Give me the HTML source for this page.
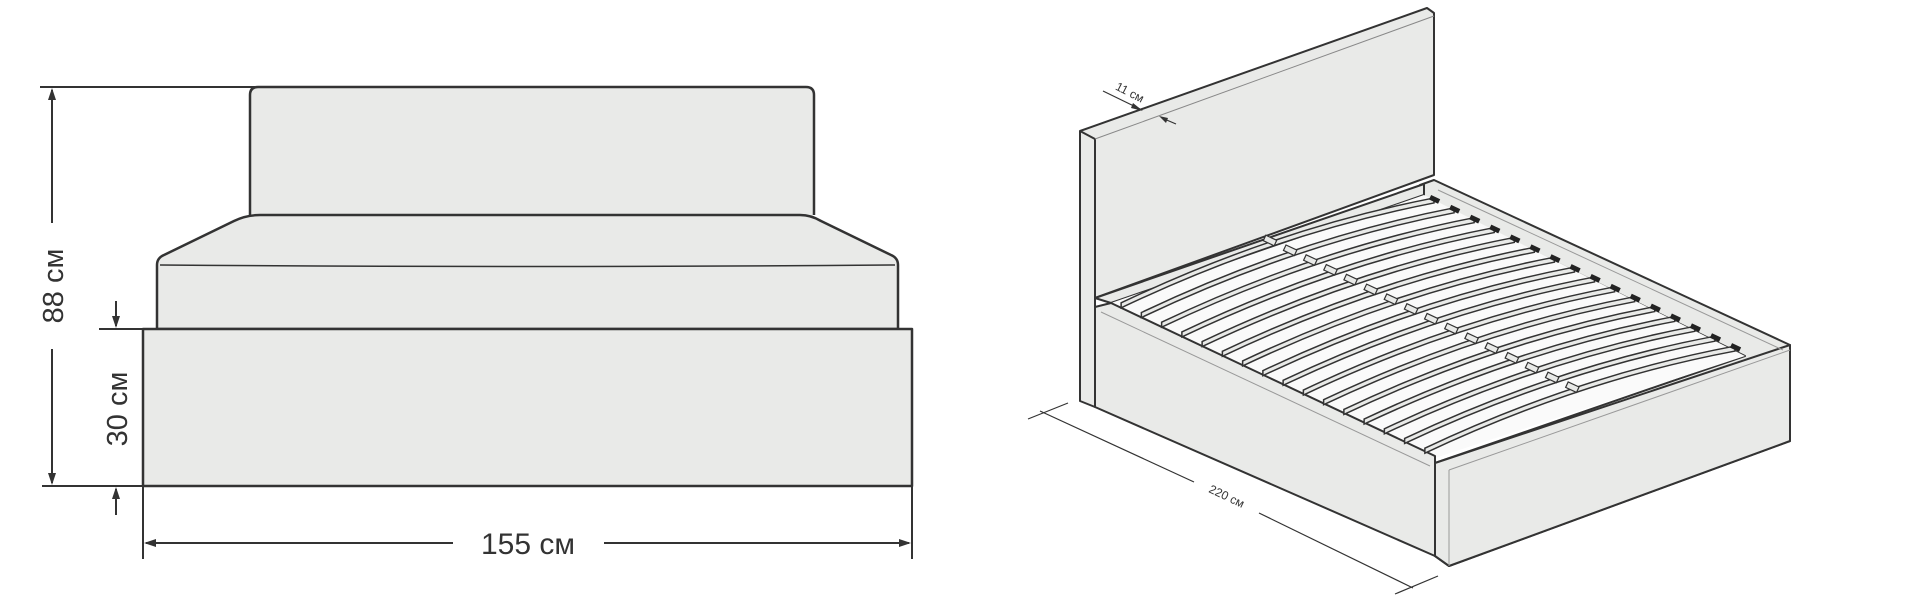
<!DOCTYPE html>
<html><head><meta charset="utf-8"><style>
html,body{margin:0;padding:0;background:#fff;}
svg{display:block;}
text{font-family:"Liberation Sans",sans-serif;fill:#333;}
</style></head><body>
<svg id="s" width="1920" height="597" viewBox="0 0 1920 597" xmlns="http://www.w3.org/2000/svg">
<g fill="#e9eae8" stroke="#333" stroke-width="2.5" stroke-linejoin="round">
  <path d="M250,215 V95 Q250,87 258,87 H806 Q814,87 814,95 V215"/>
  <path d="M157,329 V265 Q157,258 164,255 L234,221 Q246,215 260,215 H800 Q811,215 821,221 L891,255 Q898,258 898,265 V329 Z"/>
  <rect x="143" y="329" width="769" height="157"/>
</g>
<path d="M160,265 Q527,268 895,265" fill="none" stroke="#333" stroke-width="1.5"/>
<g stroke="#333" stroke-width="2" fill="none">
  <line x1="40" y1="87" x2="255" y2="87"/>
  <line x1="99" y1="329" x2="145" y2="329"/>
  <line x1="42" y1="486" x2="145" y2="486"/>
  <line x1="52" y1="90" x2="52" y2="223"/>
  <line x1="52" y1="349" x2="52" y2="483"/>
  <line x1="116" y1="301" x2="116" y2="326"/>
  <line x1="116" y1="489" x2="116" y2="515"/>
  <line x1="143" y1="486" x2="143" y2="559"/>
  <line x1="912" y1="486" x2="912" y2="559"/>
  <line x1="146" y1="543" x2="453" y2="543"/>
  <line x1="604" y1="543" x2="909" y2="543"/>
</g>
<g fill="#333">
  <polygon points="52,88 48,100 56,100"/>
  <polygon points="52,485 48,473 56,473"/>
  <polygon points="116,328 112,316 120,316"/>
  <polygon points="116,487 112,499 120,499"/>
  <polygon points="144,543 156,539 156,547"/>
  <polygon points="911,543 899,539 899,547"/>
</g>
<text x="528" y="554" font-size="30" text-anchor="middle">155 см</text>
<text transform="translate(63,286) rotate(-90)" font-size="29" text-anchor="middle">88 см</text>
<text transform="translate(127,409) rotate(-90)" font-size="29" text-anchor="middle">30 см</text>

<!-- RIGHT VIEW -->
<g fill="#e9eae8" stroke="#333" stroke-width="2" stroke-linejoin="round">
  <path d="M1080,131 L1427,8 L1434,13 L1434,175 L1095,298 L1095,407 L1080,401 Z"/>
  <path d="M1080,131 L1095,139 L1095,407" fill="none"/>
  <path d="M1095,139 L1434,16" fill="none" stroke="#888" stroke-width="1"/>
  <path d="M1420,185 L1434,180 L1790,345 L1790,441 L1449,566 L1435,556 L1435,463 L1745,356 L1420,195 Z"/>
  <path d="M1095,298 L1424,184 L1424,195 L1111,303 Z"/>
  <path d="M1111,303 L1424,195 L1745,356 L1435,458 Z" fill="#fafafa" stroke="none"/>
  <path d="M1095,307 L1111,303 L1435,456 L1435,463 L1435,556 L1095,407 Z"/>
  <path d="M1435,463 L1790,345 L1790,441 L1449,566 L1435,556 Z"/>
  <path d="M1449,470 L1790,350" fill="none" stroke="#999" stroke-width="1"/>
  <path d="M1449,470 L1449,566" fill="none" stroke="#999" stroke-width="1"/>
  <path d="M1101,312 L1430,466" fill="none" stroke="#999" stroke-width="1"/>
  <path d="M1438,190 L1783,350" fill="none" stroke="#999" stroke-width="1"/>
</g>
<g id="slats" fill="none" stroke="#333" stroke-width="1.5"></g>
<g stroke="#333" stroke-width="1.2" fill="none">
  <line x1="1040" y1="411" x2="1194" y2="482"/>
  <line x1="1259" y1="513" x2="1413" y2="588"/>
  <line x1="1028" y1="419" x2="1068" y2="403"/>
  <line x1="1395" y1="594" x2="1438" y2="576"/>
  <line x1="1103" y1="91" x2="1140" y2="109"/>
  <line x1="1176" y1="124" x2="1162" y2="118"/>
</g>
<g fill="#333">
  <polygon points="1143,111 1133,103 1131,108"/>
  <polygon points="1159,116 1168,118 1166,123"/>
</g>
<text transform="translate(1225,500) rotate(25.4)" font-size="12" text-anchor="middle">220 см</text>
<text transform="translate(1128,96) rotate(27)" font-size="12" text-anchor="middle">11 см</text>
</svg>
<script>
(function(){
var g=document.getElementById('slats'),h='';
var n=16;
for(var i=0;i<n;i++){
  var t=(i+0.5)/n;
  var lx=1111+(1435-1111)*t, ly=303+(458-303)*t;
  var rx=1424+(1745-1424)*t, ry=198+(356-198)*t;
  var mx=(lx+rx)/2, my=(ly+ry)/2-22;
  h+='<path d="M'+lx+','+ly+' Q'+mx+','+my+' '+rx+','+ry+' L'+rx+','+(ry-5)+' Q'+mx+','+(my-5)+' '+lx+','+(ly-5)+' Z" fill="#e9eae8"/>';
  h+='<rect x="'+(rx-6)+'" y="'+(ry-6)+'" width="10" height="5" fill="#222" stroke="none" transform="rotate(25 '+rx+' '+ry+')"/>';
  var cx=(lx+rx)/2-8, cy=(ly+ry)/2-14;
  h+='<rect x="'+(cx-6)+'" y="'+(cy-4)+'" width="12" height="6" fill="#e9eae8" stroke-width="1.2" transform="rotate(25 '+cx+' '+cy+')"/>';
}
g.innerHTML=h;
})();
</script>
</body></html>
